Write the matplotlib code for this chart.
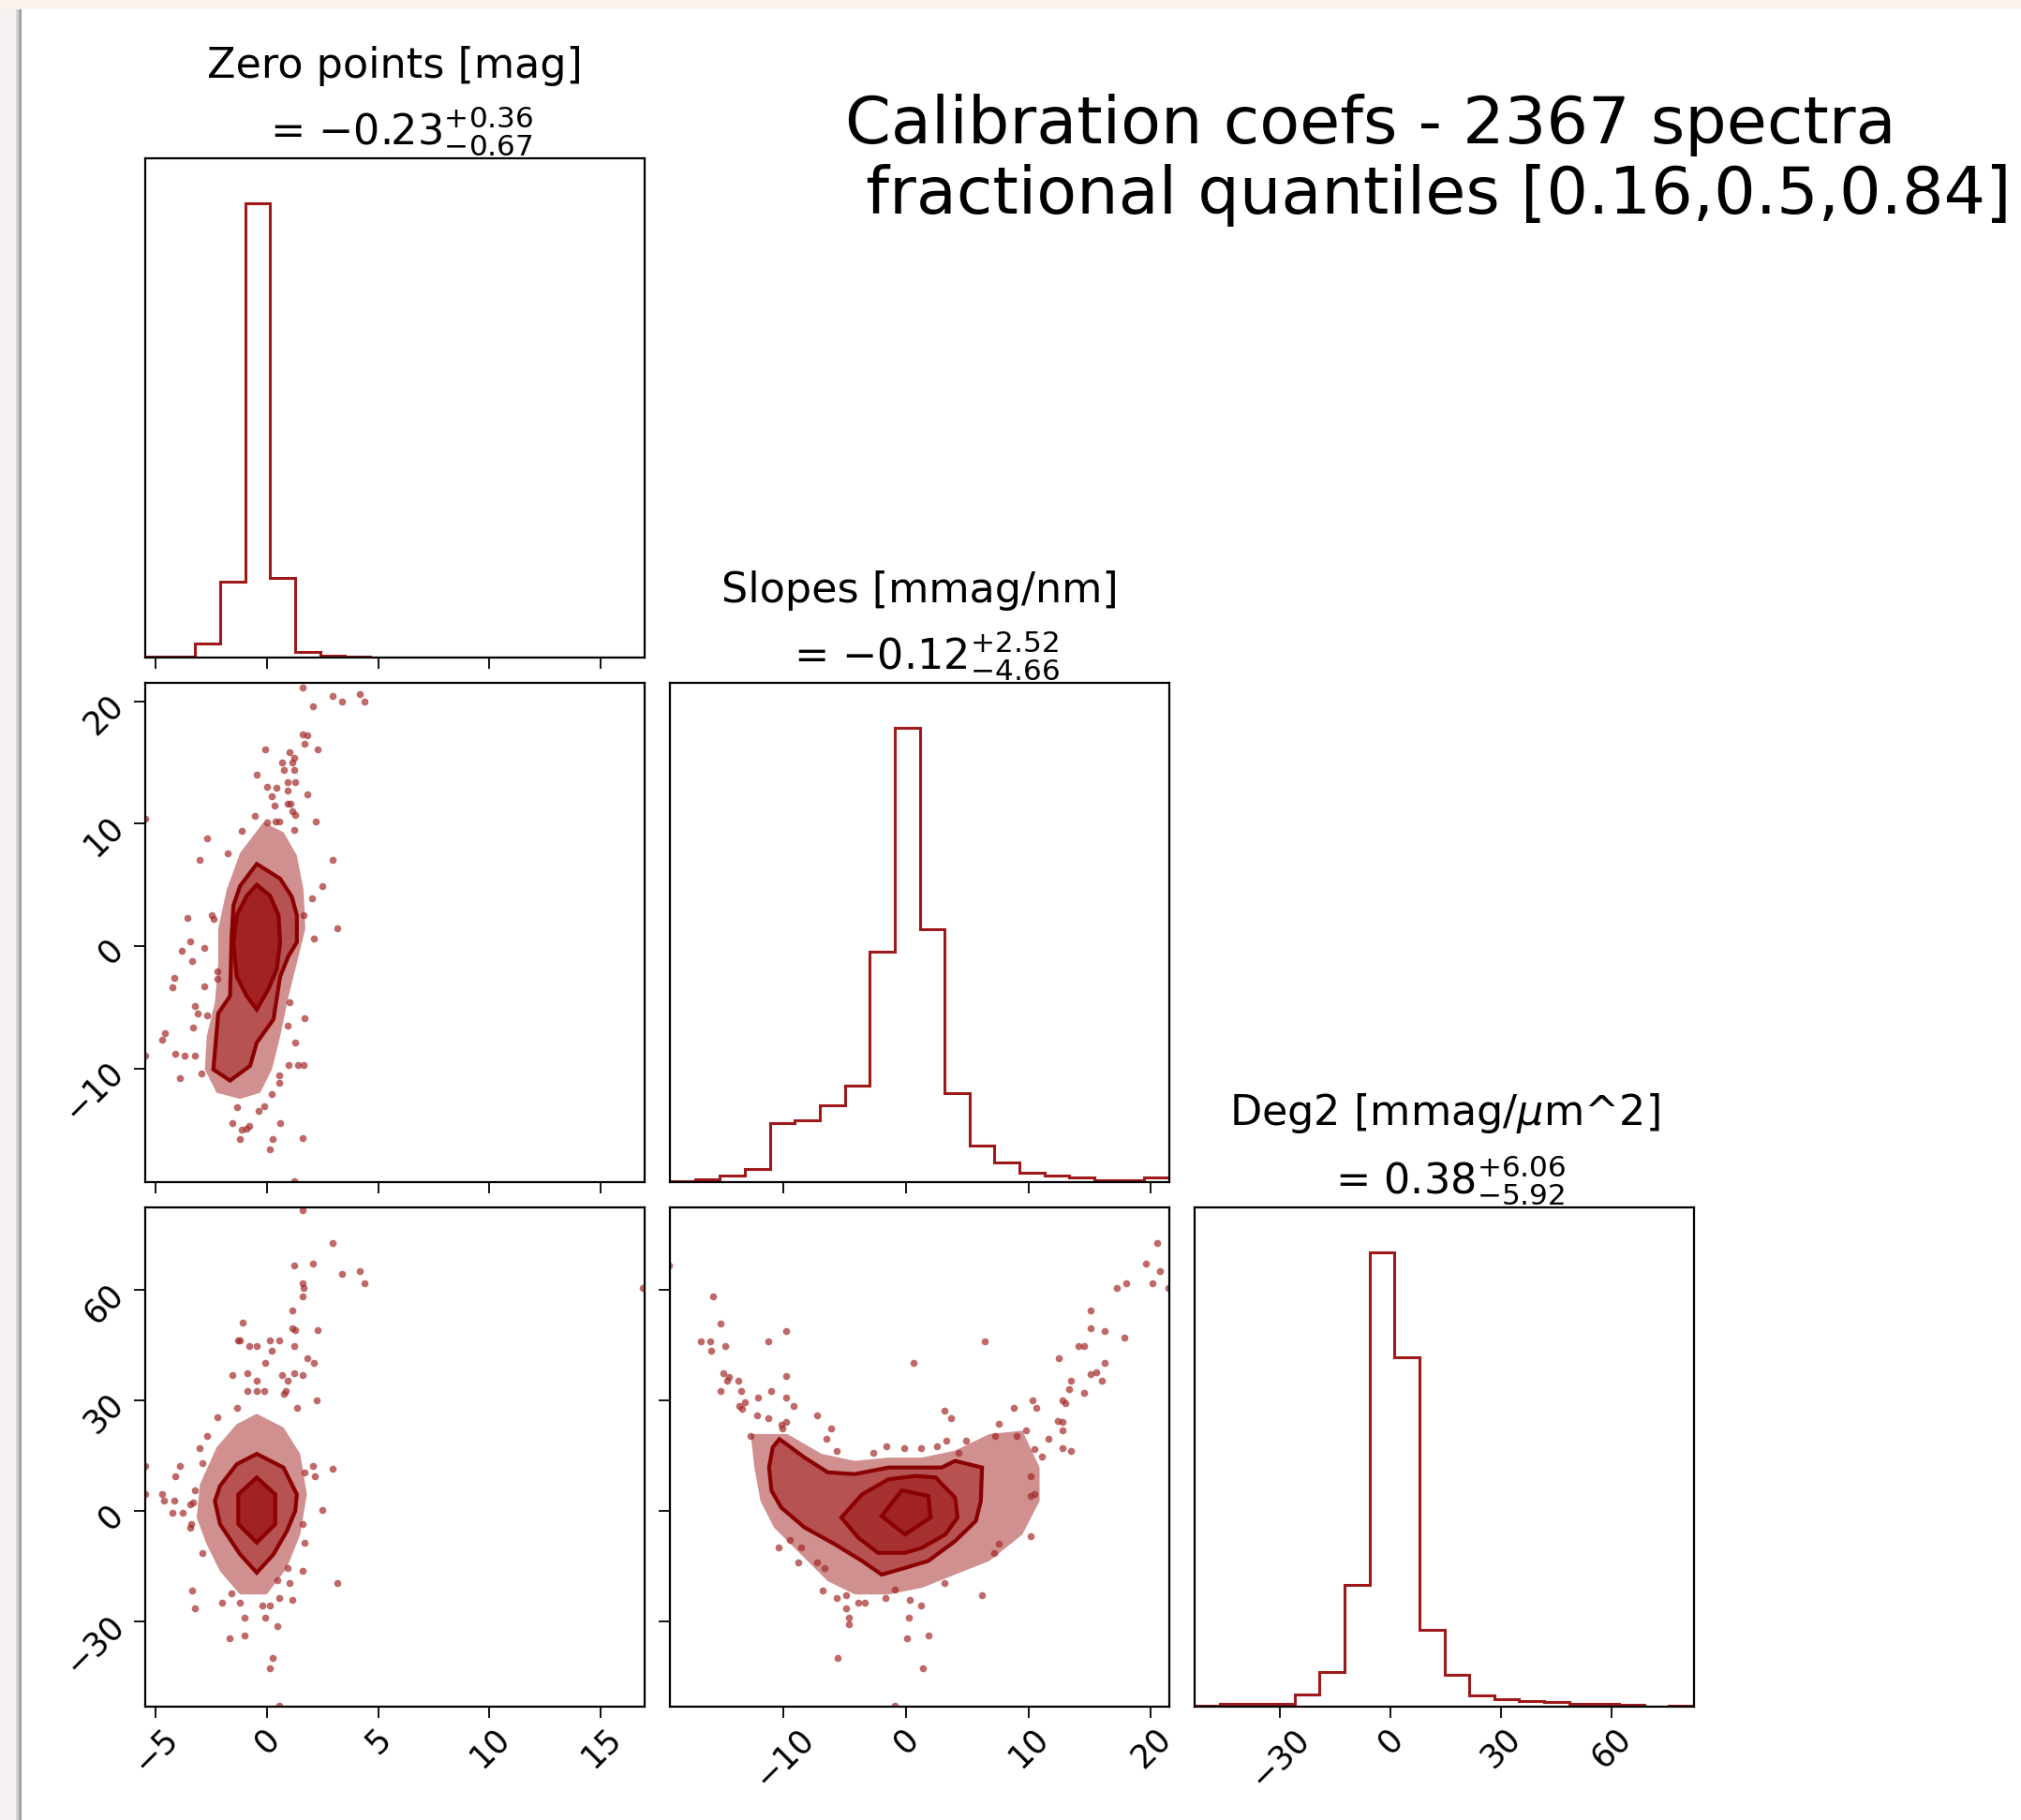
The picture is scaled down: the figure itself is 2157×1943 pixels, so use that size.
import numpy as np
import matplotlib
matplotlib.use("Agg")
import matplotlib.pyplot as plt
from matplotlib.patches import Rectangle

# parameter ranges / ticks
zp_range = (-5.46, 16.97)
slope_range = (-19.3, 21.5)
deg2_range = (-53.2, 82.5)
zp_ticks = [-5, 0, 5, 10, 15]
slope_ticks = [-10, 0, 10, 20]
deg2_ticks = [-30, 0, 30, 60]

titles = ["Zero points [mag]\n = $-0.23^{+0.36}_{-0.67}$",
          "Slopes [mmag/nm]\n = $-0.12^{+2.52}_{-4.66}$",
          "Deg2 [mmag/$\\mu$m^2]\n = $0.38^{+6.06}_{-5.92}$"]
suptitle = "Calibration coefs - 2367 spectra\n fractional quantiles [0.16,0.5,0.84]"

# histogram counts (20 bins over each range)
zp_counts = [5, 5, 52, 284, 1690, 296, 22, 7, 3, 0, 0, 0, 0, 0, 0, 0, 0, 0, 0, 1]
slope_counts = [1, 4, 11, 21, 98, 103, 127, 160, 382, 751, 419, 148, 61, 32, 16, 11, 8, 3, 3, 8]
deg2_counts = [1, 5, 5, 5, 25, 73, 257, 957, 737, 162, 67, 24, 16, 11, 10, 5, 5, 4, 0, 1]

# zero point vs slope
zs_cloud = [(-0.15, 10.1), (0.75, 9.3), (1.35, 7.4), (1.65, 4.6), (1.73, 1.4), (1.35, -1.4), (0.98, -4.1),
            (0.6, -7.4), (0.23, -10.1), (-0.3, -12.0), (-1.2, -12.5), (-2.25, -12.0), (-2.78, -10.1),
            (-2.7, -7.4), (-2.33, -4.6), (-2.18, -1.4), (-2.18, 1.4), (-1.8, 4.6), (-1.2, 7.6)]
zs_outer = [(-0.45, 6.7), (0.6, 5.5), (1.13, 4.0), (1.35, 2.5), (1.35, 0.3), (0.98, -0.8), (0.6, -2.5),
            (0.3, -6.0), (-0.45, -7.9), (-0.75, -9.8), (-1.65, -11.0), (-2.4, -10.1), (-2.18, -5.5),
            (-1.65, -4.1), (-1.58, 0.8), (-1.5, 3.3), (-1.2, 4.9)]
zs_inner = [(-0.45, 5.0), (0.15, 4.1), (0.53, 2.5), (0.6, 0.3), (0.45, -1.9), (0.08, -3.5), (-0.45, -5.2),
            (-0.9, -4.1), (-1.35, -2.5), (-1.5, 0.3), (-1.35, 2.5), (-0.9, 4.1)]
zs_points = [(1.61, 21.1), (2.96, 20.4), (3.38, 20.0), (4.17, 20.6), (4.40, 20.0), (2.06, 19.6),
             (1.61, 17.3), (1.80, 17.2), (1.70, 16.5), (2.27, 16.1), (-0.09, 16.1),
             (1.04, 15.8), (1.23, 15.4), (1.13, 15.0), (0.68, 15.0), (1.23, 14.4), (0.75, 14.4),
             (-0.44, 14.0), (0.92, 13.4), (1.26, 13.4), (0.45, 12.9), (0.0, 13.0), (0.92, 12.7), (1.80, 12.4),
             (0.24, 12.2), (0.36, 11.5), (0.92, 11.6), (1.05, 11.6), (1.13, 11.0), (1.28, 10.7),
             (-0.54, 10.6), (2.2, 10.2), (0.0, 10.1), (0.37, 10.2), (0.57, 10.2),
             (-1.13, 9.4), (1.25, 9.5), (-2.67, 8.8), (-1.77, 7.6), (-3.0, 7.0), (2.96, 7.0),
             (2.48, 4.9), (2.03, 3.9), (1.65, 2.5), (2.1, 0.6), (3.17, 1.45), (-3.56, 2.3), (-2.48, 2.5),
             (-2.4, 2.2), (-3.45, 0.4), (-3.8, -0.4), (-2.8, -0.2), (-3.35, -1.2), (-4.14, -2.6),
             (-4.25, -3.4), (-2.82, -3.3), (-2.2, -2.1), (-2.2, -2.7), (-3.25, -4.9), (-3.1, -5.5),
             (-2.7, -5.7), (-3.3, -6.7), (-4.58, -7.1), (-4.70, -7.7), (-4.13, -8.8), (-3.68, -9.0),
             (-3.23, -9.0), (-5.45, 10.4), (-5.45, -9.0), (-3.9, -10.8), (-2.93, -10.4),
             (0.96, -9.7), (1.38, -9.7), (1.65, -9.7), (1.70, -5.9), (0.92, -6.5), (1.26, -7.9),
             (1.02, -4.6), (0.57, -10.6), (0.57, -11.2), (0.24, -12.1), (-1.35, -13.2), (-0.11, -13.1),
             (-0.38, -13.5), (-1.53, -14.5), (0.59, -14.5), (-1.13, -15.0), (-0.9, -14.9), (-0.78, -14.7),
             (-1.23, -15.8), (0.26, -15.8), (1.61, -15.7), (0.14, -16.6), (1.23, -19.2)]

# zero point vs deg2
zd_cloud = [(-0.45, 26.4), (0.75, 22.7), (1.5, 15.5), (1.8, 4.5), (1.5, -6.4), (0.9, -15.5), (0.0, -22.7),
            (-1.2, -22.7), (-2.1, -16.4), (-2.7, -9.1), (-3.15, -1.8), (-3.0, 7.3), (-2.25, 17.3),
            (-1.35, 23.6)]
zd_outer = [(-0.45, 15.5), (0.75, 11.8), (1.35, 4.5), (1.28, 0.0), (0.9, -5.5), (0.3, -11.8),
            (-0.45, -16.8), (-1.2, -11.8), (-2.1, -3.6), (-2.33, 2.7), (-2.1, 6.8), (-1.35, 12.7)]
zd_inner = [(-0.45, 9.1), (0.38, 4.5), (0.38, -3.6), (-0.45, -8.6), (-1.28, -3.6), (-1.28, 4.5)]
zd_points = [(1.61, 81.8), (2.96, 72.7), (2.06, 67.3), (1.25, 66.6), (3.38, 64.5), (4.17, 65.3),
             (4.40, 61.8), (1.61, 61.8), (1.65, 60.5), (1.61, 58.4), (16.9, 60.5), (1.13, 54.5),
             (-1.1, 51.1), (1.13, 49.7), (1.28, 49.1), (2.27, 49.1), (-1.3, 46.4), (-1.2, 46.4),
             (-0.77, 44.8), (-0.44, 44.8), (0.14, 46.4), (0.57, 46.4), (0.24, 43.5), (1.25, 44.8),
             (1.8, 41.6), (2.13, 40.2), (-0.09, 40.2), (-1.55, 36.8), (-0.87, 37.5), (0.68, 36.8),
             (0.92, 35.5), (1.25, 37.5), (1.61, 36.8), (-0.44, 35.5), (-0.87, 32.7), (-0.44, 32.7),
             (-0.1, 32.7), (0.86, 32.7), (0.77, 31.8), (2.25, 30.0), (-1.32, 28.0), (-2.24, 25.5),
             (1.35, 28.0), (-2.69, 20.5), (-3.0, 17.1), (-2.9, 13.0), (-3.9, 12.3), (-4.11, 9.5),
             (-4.7, 4.7), (-4.6, 2.7), (-4.14, 2.7), (-4.25, -0.6), (-3.78, -0.6), (-3.23, 5.5),
             (-3.45, 1.8), (-3.3, 2.3), (-3.38, -3.6), (-3.45, -4.5), (-5.45, 12.3), (-5.45, 4.7),
             (2.96, 11.5), (2.06, 12.3), (2.16, 9.5), (1.7, 10.5), (2.48, 0.2), (1.61, -3.6),
             (1.7, -8.6), (1.61, -16.2), (0.92, -15.5), (3.17, -19.5), (-2.9, -11.4), (-3.35, -21.6),
             (-3.23, -26.4), (-2.0, -25.0), (-1.58, -22.3), (-1.23, -25.0), (0.47, -18.9), (1.02, -19.5),
             (0.57, -23.6), (1.13, -24.3), (-0.21, -25.7), (0.14, -25.7), (-1.0, -29.1), (-0.09, -29.1),
             (0.47, -31.2), (-1.68, -34.5), (-1.0, -33.9), (0.26, -40.0), (0.14, -42.7), (0.57, -53.0)]

# slope vs deg2
sd_cloud = [(-12.7, 20.9), (-9.7, 20.9), (-6.9, 15.5), (-4.2, 13.6), (-1.45, 14.5), (1.3, 14.5),
            (4.0, 16.4), (6.8, 20.9), (9.5, 21.8), (10.9, 11.8), (10.9, 2.7), (9.5, -6.4), (6.8, -13.6),
            (4.0, -17.3), (1.3, -20.9), (-1.45, -22.7), (-4.2, -22.7), (-6.4, -19.1), (-8.6, -11.8),
            (-10.8, -4.5), (-11.9, 2.7), (-12.4, 11.8)]
sd_outer = [(-10.36, 19.5), (-9.8, 18.2), (-8.3, 14.5), (-6.4, 10.5), (-4.2, 10.0), (-1.45, 11.8),
            (1.3, 11.8), (2.9, 11.8), (4.0, 13.6), (5.1, 12.7), (6.2, 11.8), (6.1, 2.7), (5.7, -2.7),
            (4.0, -8.2), (1.8, -13.6), (-0.1, -15.5), (-2.0, -17.3), (-3.6, -13.6), (-5.8, -9.1),
            (-8.3, -4.5), (-10.2, 0.9), (-11.0, 5.5), (-11.2, 11.8), (-10.9, 17.3)]
sd_middle = [(-5.3, -1.8), (-3.6, 4.5), (-1.45, 8.6), (0.74, 9.5), (2.4, 9.1), (4.0, 3.6), (4.2, -1.8),
             (3.2, -6.4), (1.3, -10.0), (-0.1, -11.4), (-2.3, -11.4), (-3.9, -7.3)]
sd_inner = [(-2.0, -1.4), (-0.36, 5.6), (1.8, 4.1), (2.0, -1.8), (-0.1, -6.4)]
sd_points = [(-19.4, 66.8), (-15.75, 58.4), (-15.15, 50.9), (-16.8, 46.2), (-16.0, 46.2), (-15.9, 43.5),
             (-14.8, 44.8), (-11.3, 46.2), (-9.8, 48.9), (-14.9, 37.5), (-14.5, 36.4), (-14.6, 35.4),
             (-13.7, 35.4), (-13.45, 32.6), (-15.15, 32.6), (-13.6, 28.6), (-13.2, 29.5), (-13.4, 27.7),
             (-12.1, 30.7), (-11.0, 32.6), (-9.8, 36.6), (-9.8, 30.7), (-9.2, 28.6), (-12.2, 25.9),
             (-11.3, 25.2), (-12.7, 20.5), (-10.2, 23.5), (-9.8, 24.1), (-10.1, 22.3), (-7.3, 25.9),
             (-6.1, 22.5), (-6.5, 19.7), (-5.7, 16.4), (0.6, 40.2), (6.4, 46.2), (3.1, 27.3), (3.7, 25.2),
             (-1.6, 17.7), (-0.2, 17.1), (1.2, 17.1), (2.5, 17.7), (3.3, 19.1), (4.9, 19.1), (-2.7, 15.7),
             (4.3, 15.7), (8.8, 28.0), (7.6, 23.8), (10.3, 30.0), (10.6, 28.0), (7.3, 20.5), (9.0, 20.5),
             (9.8, 21.8), (11.6, 19.7), (12.4, 24.5), (12.8, 24.1), (12.8, 21.8), (12.8, 30.0),
             (13.0, 29.4), (13.5, 35.5), (13.3, 33.2), (10.5, 16.8), (11.1, 14.8), (12.8, 17.1),
             (13.5, 16.4), (12.5, 41.6), (14.1, 44.8), (14.5, 44.8), (14.5, 32.0), (15.1, 37.3),
             (15.5, 37.7), (16.2, 40.2), (16.0, 35.5), (15.1, 54.4), (15.1, 49.7), (16.2, 48.9),
             (17.8, 47.1), (17.2, 60.5), (18.0, 61.8), (19.6, 67.3), (20.1, 61.8), (20.5, 72.7),
             (20.7, 65.2), (21.4, 60.5), (10.2, 9.5), (10.2, 4.1), (10.2, -6.8), (10.5, 4.5),
             (7.6, -8.9), (7.2, -11.4), (6.2, -23.0), (3.1, -19.5), (-10.4, -10.0), (-9.5, -7.8),
             (-8.8, -14.1), (-8.6, -10.0), (-7.3, -14.1), (-6.7, -15.5), (-6.8, -21.6), (-5.7, -23.6),
             (-4.9, -23.0), (-4.9, -26.4), (-4.7, -29.1), (-4.7, -30.9), (-3.9, -25.0), (-3.4, -25.0),
             (-5.6, -40.0), (-1.7, -23.6), (-0.9, -21.4), (0.3, -24.3), (0.2, -29.1), (0.05, -34.5),
             (1.8, -33.9), (1.4, -42.7), (1.2, -25.7), (-0.9, -53.0)]

W, H = 2157, 1943
fig = plt.figure(figsize=(W / 100, H / 100), dpi=100)
fig.patch.set_facecolor("#f4f1f0")
# screenshot frame
fig.add_artist(Rectangle((0, 1 - 10 / H), 1, 10 / H, transform=fig.transFigure,
                         facecolor="#fcf2ee", edgecolor="none", zorder=-6))
for i, c in enumerate(["#d8d8d8", "#bdbdbd", "#9a9a9a"]):
    fig.add_artist(Rectangle(((17 + 2 * i) / W, 0), 2 / W, 1 - 10 / H, transform=fig.transFigure,
                             facecolor=c, edgecolor="none", zorder=-6))
fig.add_artist(Rectangle((23 / W, 0), 1, 1 - 10 / H, transform=fig.transFigure,
                         facecolor="white", edgecolor="none", zorder=-5))

lefts = [155, 715, 1275]
tops = [169, 729, 1289]
size = 533


def make_ax(r, c):
    return fig.add_axes([lefts[c] / W, 1 - (tops[r] + size) / H, size / W, size / H])


ranges = [zp_range, slope_range, deg2_range]
ticks = [zp_ticks, slope_ticks, deg2_ticks]
counts = [zp_counts, slope_counts, deg2_counts]
pairs = {(1, 0): (zs_cloud, [zs_outer], zs_inner, zs_points),
         (2, 0): (zd_cloud, [zd_outer], zd_inner, zd_points),
         (2, 1): (sd_cloud, [sd_outer, sd_middle], sd_inner, sd_points)}

line_col = "#8b0000"
pt_col = "#a52a2a"

for r in range(3):
    for c in range(r + 1):
        ax = make_ax(r, c)
        for sp in ax.spines.values():
            sp.set_linewidth(1.6)
        ax.tick_params(length=8.5, width=1.3, labelsize=25)
        ax.set_xlim(*ranges[c])
        ax.set_xticks(ticks[c])
        if r == c:
            edges = np.linspace(ranges[c][0], ranges[c][1], 21)
            ax.stairs(counts[c], edges, color="#9e1a1a", lw=2.2)
            ax.set_ylim(0, 1.1 * max(counts[c]))
            ax.set_yticks([])
            ax.set_title(titles[c], fontsize=32, pad=6, linespacing=1.45)
        else:
            cloud, outers, inner, pts = pairs[(r, c)]
            ax.set_ylim(*ranges[r])
            ax.set_yticks(ticks[r])
            cl = np.array(cloud)
            ax.fill(cl[:, 0], cl[:, 1], color=pt_col, alpha=0.52, lw=0)
            alphas = [0.6, 0.85]
            for k, o in enumerate(outers):
                o = np.array(o)
                ax.fill(o[:, 0], o[:, 1], color=pt_col, alpha=alphas[k], lw=0)
            inn = np.array(inner)
            ax.fill(inn[:, 0], inn[:, 1], color="#a02222", lw=0)
            p = np.array(pts)
            ax.plot(p[:, 0], p[:, 1], "o", color=pt_col, ms=5.5, mec="none", alpha=0.7)
            for o in outers + [inner]:
                o = np.array(o)
                ax.fill(o[:, 0], o[:, 1], facecolor="none", edgecolor=line_col, lw=3.0)
        if r == 2:
            for lb in ax.get_xticklabels():
                lb.set_rotation(45)
        else:
            ax.tick_params(labelbottom=False)
        if c == 0 and r > 0:
            for lb in ax.get_yticklabels():
                lb.set_rotation(45)
        else:
            ax.tick_params(labelleft=False)

fig.text(902 / W, 1 - 100 / H, suptitle, fontsize=50.5, ha="left", va="top", linespacing=1.15)

fig.savefig("out.png", dpi=100)
